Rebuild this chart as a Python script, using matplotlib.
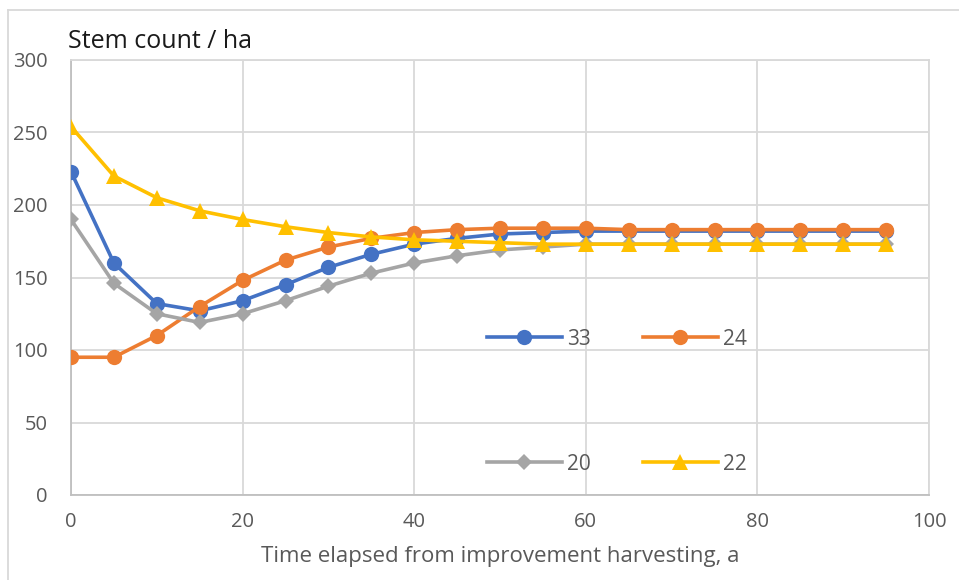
import matplotlib
matplotlib.use("Agg")
import matplotlib.pyplot as plt
from matplotlib.lines import Line2D

plt.rcParams['font.family'] = ['Open Sans', 'DejaVu Sans']

years = [0, 5, 10, 15, 20, 25, 30, 35, 40, 45, 50, 55, 60, 65, 70, 75, 80, 85, 90, 95]
s33 = [223, 160, 132, 127, 134, 145, 157, 166, 173, 177, 180, 181, 182, 182, 182, 182, 182, 182, 182, 182]
s24 = [95, 95, 110, 130, 148, 162, 171, 177, 181, 183, 184, 184, 184, 183, 183, 183, 183, 183, 183, 183]
s20 = [190, 146, 125, 119, 125, 134, 144, 153, 160, 165, 169, 171, 173, 173, 173, 173, 173, 173, 173, 173]
s22 = [254, 220, 205, 196, 190, 185, 181, 178, 176, 175, 174, 173, 173, 173, 173, 173, 173, 173, 173, 173]

series = [
    ("33", s33, "#4472C4", "o", 11),
    ("24", s24, "#ED7D31", "o", 11),
    ("20", s20, "#A5A5A5", "D", 8),
    ("22", s22, "#FFC000", "^", 11),
]

fig = plt.figure(figsize=(9.59, 5.8), dpi=100)
W, H = 959, 580
ax = fig.add_axes([71 / W, 1 - 495 / H, (929 - 71) / W, (495 - 60) / H])

lines = {}
for name, vals, col, mk, ms in series:
    ln, = ax.plot(years, vals, color=col, lw=2.6, marker=mk, markersize=ms,
                  markeredgewidth=0, zorder=3)
    lines[name] = ln

ax.set_xlim(0, 100)
ax.set_ylim(0, 300)
ax.set_xticks(range(0, 101, 20))
ax.set_yticks(range(0, 301, 50))
ax.grid(True, color="#d9d9d9", lw=1.3)
ax.set_axisbelow(True)
for s in ax.spines.values():
    s.set_color("#d9d9d9")
    s.set_linewidth(1.3)
ax.spines['bottom'].set_color("#bfbfbf")
ax.spines['left'].set_color("#bfbfbf")
ax.tick_params(length=0, labelsize=14.5, labelcolor="#595959")
ax.tick_params(axis='x', pad=12)
ax.tick_params(axis='y', pad=17)

ax.set_xlabel("Time elapsed from improvement harvesting, a", fontsize=16,
              color="#595959", labelpad=10)
fig.text(68 / W, 1 - 42 / H, "Stem count / ha", fontsize=18, color="#1a1a1a",
         ha="left", va="center")

handles = [lines["33"], lines["20"], lines["24"], lines["22"]]
labels = ["33", "20", "24", "22"]
leg = ax.legend(handles, labels, ncol=2, loc="upper left",
                bbox_to_anchor=((468 - 71) / (929 - 71), 1 - (310 - 60) / (495 - 60)),
                frameon=False, fontsize=15, labelcolor="#595959",
                handlelength=3.6, columnspacing=2.5, labelspacing=4.98,
                handletextpad=0.25, markerscale=1.0)

# outer chart frame
fig.add_artist(Line2D([8 / W, 8 / W], [0, 1 - 10 / H], color="#d9d9d9", lw=1.3))
fig.add_artist(Line2D([8 / W, 1], [1 - 10 / H, 1 - 10 / H], color="#d9d9d9", lw=1.3))

fig.savefig("out.png", dpi=100, facecolor="white")
